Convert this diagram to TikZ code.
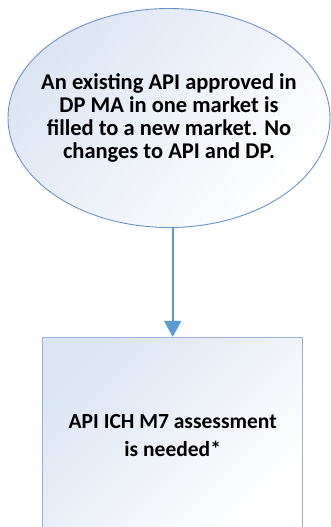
\documentclass[tikz,border=0pt]{standalone}
\usepackage{fontspec}
\setmainfont{Carlito}
\usetikzlibrary{shapes.geometric,arrows.meta}
\definecolor{lineblue}{HTML}{5B9BD5}
\definecolor{edgeblue}{HTML}{6A94C8}
\definecolor{boxedge}{HTML}{95B3D7}
\definecolor{paleblue}{HTML}{DCE5F2}
\tikzset{x=1pt,y=1pt,
    start node/.style={ellipse,draw=edgeblue,line width=0.9pt,
        top color=paleblue,bottom color=white,shading angle=50,
        minimum width=322pt,minimum height=219pt},
    start text/.style={align=center,
        font=\fontsize{22.5}{23.3}\selectfont\bfseries},
    result box/.style={rectangle,draw=boxedge,line width=0.9pt,
        top color=paleblue,bottom color=white,shading angle=45,
        minimum width=260pt,minimum height=196pt,align=center,
        font=\fontsize{21.5}{28}\selectfont\bfseries},
    flow arrow/.style={draw=lineblue,line width=2pt,
        -{Triangle[length=16pt,width=17pt]}},
    }

\begin{document}
\begin{tikzpicture}
	\useasboundingbox (0,0) rectangle (331,-527);
	\node[start node] (start) at (169,-118) {};
	\node[start text] (starttext) at (start.center)
		{An existing API approved in\\DP MA in one market is\\filled to a new market. No\\changes to API and DP.};
	\node[result box] (m7) at (172.7,-435.3)
		{API ICH M7 assessment\\is needed*};
	\draw[flow arrow] (m7.north |- start.south)--(m7.north);
\end{tikzpicture}
\end{document}
